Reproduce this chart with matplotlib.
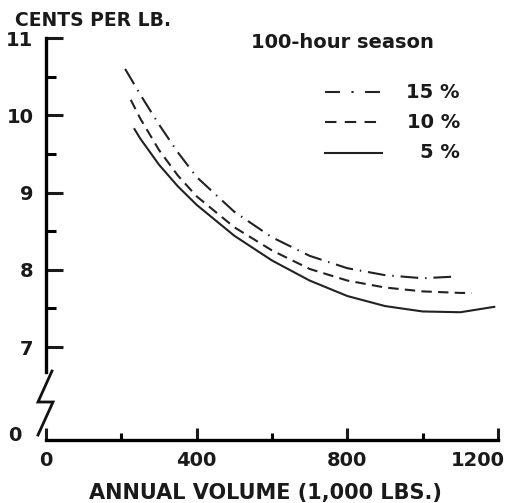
import matplotlib
matplotlib.use("Agg")
import matplotlib.pyplot as plt
from matplotlib.lines import Line2D
import matplotlib.transforms as mtransforms

# ---- data ----
volume_15 = [210, 250, 300, 350, 400, 500, 600, 700, 800, 900, 1000, 1080]
cost_15 = [10.60, 10.27, 9.88, 9.52, 9.20, 8.75, 8.42, 8.18, 8.02, 7.93, 7.89, 7.91]

volume_10 = [225, 250, 300, 350, 400, 500, 600, 700, 800, 900, 1000, 1100, 1130]
cost_10 = [10.20, 9.96, 9.55, 9.22, 8.95, 8.55, 8.25, 8.01, 7.86, 7.77, 7.72, 7.70, 7.70]

volume_5 = [235, 250, 300, 350, 400, 500, 600, 700, 800, 900, 1000, 1100, 1190]
cost_5 = [9.82, 9.70, 9.36, 9.08, 8.84, 8.44, 8.12, 7.86, 7.66, 7.53, 7.46, 7.45, 7.52]

x_ticks = [0, 400, 800, 1200]
x_minor = [200, 600, 1000]
y_ticks = [7, 8, 9, 10, 11]
y_minor = [7.5, 8.5, 9.5, 10.5]
legend_labels = ["15 %", "10 %", "5 %"]

W, H = 515, 503
plt.rcParams["font.family"] = ["DejaVu Sans"]
plt.rcParams["font.weight"] = "bold"
fig = plt.figure(figsize=(W / 100, H / 100), dpi=100)
fig.patch.set_facecolor("white")

TXT = "#1a1a1a"
left_px, right_px, top_px, bot_px = 46, 498, 38, 440
ax = fig.add_axes([left_px / W, (H - bot_px) / H,
                   (right_px - left_px) / W, (bot_px - top_px) / H])
y_bottom = 11 - (bot_px - top_px) / 77.25
ax.set_xlim(0, 1200)
ax.set_ylim(y_bottom, 11)

lw = 1.5
ax.plot(volume_15, cost_15, color="#222222", lw=lw,
        linestyle=(0, (8.5, 3.3, 0.7, 3.3)))
ax.plot(volume_10, cost_10, color="#222222", lw=lw,
        linestyle=(0, (5, 3)))
ax.plot(volume_5, cost_5, color="#222222", lw=lw, linestyle="-")

# spines
for s in ["top", "right"]:
    ax.spines[s].set_visible(False)
ax.spines["left"].set_linewidth(2.4)
ax.spines["bottom"].set_linewidth(2.4)
ax.spines["left"].set_bounds(6.68, 11)
ax.spines["bottom"].set_bounds(0, 1200)

ax.set_xticks(x_ticks)
ax.set_xticks(x_minor, minor=True)
ax.set_yticks(y_ticks)
ax.set_yticks(y_minor, minor=True)
ax.set_yticklabels([str(v) for v in y_ticks])
ax.set_xticklabels([str(v) for v in x_ticks])
ax.tick_params(axis="y", which="major", direction="in", length=12, width=2.2,
               labelsize=14, pad=9, colors=TXT)
ax.tick_params(axis="y", which="minor", direction="in", length=7, width=2.2)
ax.tick_params(axis="x", which="major", direction="in", length=9, width=2.2,
               labelsize=14, pad=8, colors=TXT)
ax.tick_params(axis="x", which="minor", direction="in", length=5, width=2.2)

# shift the 1200 label left like the reference
lab = ax.get_xticklabels()[-1]
lab.set_transform(lab.get_transform() +
                  mtransforms.ScaledTranslation(-20 / 100, 0, fig.dpi_scale_trans))

# "0" at broken origin
ax.text(-0.068, 0.012, "0", transform=ax.transAxes, ha="center", va="center",
        fontsize=14, color=TXT)

# axis break zigzag (axes fraction)
def fx(px):
    return (px - left_px) / (right_px - left_px)

def fy(py):
    return (bot_px - py) / (bot_px - top_px)

zz_x = [fx(52), fx(38), fx(53), fx(38)]
zz_y = [fy(371), fy(402), fy(402), fy(435)]
ax.add_line(Line2D(zz_x, zz_y, transform=ax.transAxes, color="#111111",
                   lw=2.0, clip_on=False, solid_joinstyle="miter"))

# titles
fig.text(15 / W, 1 - 20 / H, "CENTS PER LB.", fontsize=13.5, ha="left", va="center",
         color=TXT)
fig.text(265 / W, 1 - 493 / H, "ANNUAL VOLUME (1,000 LBS.)", fontsize=15,
         ha="center", va="center", color=TXT)

# legend (manual)
fig.text(342 / W, 1 - 42 / H, "100-hour season", fontsize=14, ha="center",
         va="center", color=TXT)
styles = [(0, (7.2, 5.5, 1.0, 5.5)), (0, (5.5, 4.0)), "-"]
rows = [92, 122, 153]
for st, ypx, lbl in zip(styles, rows, legend_labels):
    fig.add_artist(Line2D([325 / W, 382 / W], [1 - ypx / H, 1 - ypx / H],
                          transform=fig.transFigure, color="#222222", lw=lw,
                          linestyle=st))
    fig.text(460 / W, 1 - ypx / H, lbl, fontsize=14, ha="right", va="center",
             color=TXT)

fig.savefig("out.png", dpi=100, facecolor="white")
